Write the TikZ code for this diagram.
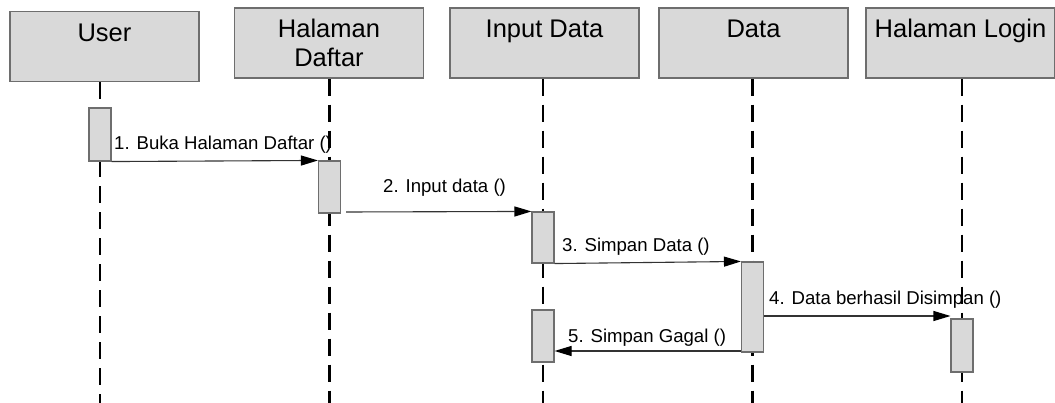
\documentclass[tikz,border=0pt]{standalone}
\usepackage{fontspec}
\setmainfont{Liberation Sans}
\usetikzlibrary{arrows.meta,backgrounds}

\definecolor{boxfill}{HTML}{D9D9D9}
\definecolor{boxline}{HTML}{6E6E6E}
\definecolor{msgline}{HTML}{333333}

\tikzset{
  header/.style={draw=boxline, line width=1.2pt, fill=boxfill, rectangle,
    minimum width=189pt, minimum height=70pt, inner sep=0pt},
  hdrtext/.style={inner sep=0pt, align=center, anchor=base,
    font=\fontsize{25.5pt}{29pt}\selectfont},
  lifeline/.style={draw=black, line width=2.6pt, dash pattern=on 17pt off 9pt},
  act/.style={draw=boxline, line width=1.1pt, fill=boxfill, rectangle,
    minimum width=22pt, inner sep=0pt},
  msg/.style={draw=msgline, line width=1.1pt,
    -{Triangle[length=17pt, width=10pt, black]}},
  msgtext/.style={inner sep=0pt, anchor=base west,
    font=\fontsize{18.6pt}{21pt}\selectfont}
}

\begin{document}
\begin{tikzpicture}[x=1pt, y=-1pt]
  \useasboundingbox (0,0) rectangle (1055,403);

  % participant headers
  \node[header] (user)   at (104.5,46.5) {};
  \node[header] (daftar) at (329,43)  {};
  \node[header] (input)  at (544.5,43) {};
  \node[header] (data)   at (753.5,43) {};
  \node[header] (login)  at (960.5,43) {};

  \node[hdrtext] (tuser)   at ([yshift=-31pt]user.north)   {User};
  \node[hdrtext] (tdaftar) at ([yshift=-59pt]daftar.north) {Halaman\\Daftar};
  \node[hdrtext] (tinput)  at ([yshift=-30pt]input.north)  {Input Data};
  \node[hdrtext] (tdata)   at ([yshift=-30pt]data.north)   {Data};
  \node[hdrtext] (tlogin)  at ([yshift=-30pt]login.north)  {Halaman Login};

  % activation bars
  \node[act, minimum height=53pt] (a1) at (100,134.5) {};
  \node[act, minimum height=52pt] (a2) at (329.5,187) {};
  \node[act, minimum height=51pt] (a3) at (543,237.5) {};
  \node[act, minimum height=90pt] (a4) at (752.5,307) {};
  \node[act, minimum height=52pt] (a5) at (543,336)   {};
  \node[act, minimum height=53pt] (a6) at (962,345.5) {};

  % lifelines run behind the bars down to the bottom edge
  \coordinate (bottom) at (0,403);
  \begin{scope}[on background layer]
    \draw[lifeline] (a1 |- user.south)   -- (a1 |- bottom);
    \draw[lifeline] (a2 |- daftar.south) -- (a2 |- bottom);
    \draw[lifeline] (a3 |- input.south)  -- (a3 |- bottom);
    \draw[lifeline] (a4 |- data.south)   -- (a4 |- bottom);
    \draw[lifeline] (a6 |- login.south)  -- (a6 |- bottom);
  \end{scope}

  % messages
  \coordinate (m2) at (346,212);
  \coordinate (m4) at (0,316);
  \coordinate (m5) at (0,351);
  \draw[msg] (a1.south east) -- (a2.north west);
  \draw[msg] (m2) -- (a3.north west);
  \draw[msg] (a3.south east) -- (a4.north west);
  \draw[msg] (a4.east |- m4) -- (a6.west |- m4);
  \draw[msg] (a4.west |- m5) -- (a5.east |- m5);

  % message labels
  \node[msgtext] (l1) at (114,150) {1. Buka Halaman Daftar ()};
  \node[msgtext] (l2) at (383,193) {2. Input data ()};
  \node[msgtext] (l3) at (562,252) {3. Simpan Data ()};
  \node[msgtext] (l4) at (769,305) {4. Data berhasil Disimpan ()};
  \node[msgtext] (l5) at (568,343) {5. Simpan Gagal ()};
\end{tikzpicture}
\end{document}
